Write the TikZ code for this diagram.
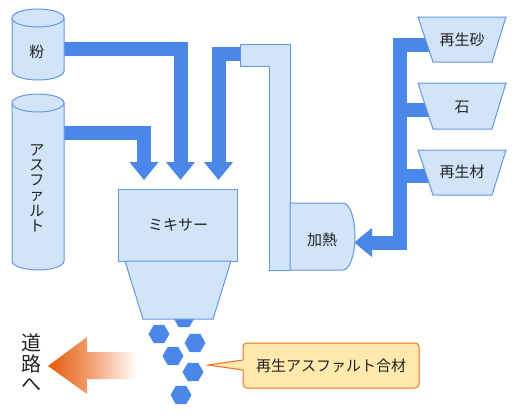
\documentclass[tikz,border=0pt]{standalone}
\usepackage{fontspec}
\setmainfont{Noto Sans CJK JP}
\usetikzlibrary{arrows.meta,shapes.geometric}
\definecolor{flow}{RGB}{75,135,232}
\definecolor{boxfill}{RGB}{210,228,248}
\definecolor{boxline}{RGB}{100,150,230}
\definecolor{calfill}{RGB}{255,233,172}
\definecolor{calline}{RGB}{236,112,32}
\definecolor{deeporange}{RGB}{230,90,10}
\definecolor{txt}{RGB}{34,34,34}
\begin{document}
\begin{tikzpicture}[x=1pt,y=-1pt,
  part/.style={fill=boxfill,draw=boxline,line width=1pt},
  feed/.style={draw=flow,line width=14pt,line join=miter},
  feedtip/.style={feed,-{Triangle[width=28pt,length=18pt]}},
  hex/.style={regular polygon,regular polygon sides=6,fill=flow,minimum size=21pt,inner sep=0pt},
  lbl/.style={text=txt,font=\fontsize{15}{15}\selectfont,inner sep=0pt}]
\useasboundingbox (0,0) rectangle (515,415);
% feed lines
\coordinate (p0) at (64,48.5);   \coordinate (p1) at (180.5,180);
\coordinate (a0) at (64,132.5);  \coordinate (a1) at (144,180);
\coordinate (d0) at (241,54);    \coordinate (d1) at (218.5,180);
\coordinate (s0) at (436,44.5);  \coordinate (sc) at (400,242.5); \coordinate (h1) at (354,242.5);
\coordinate (t0) at (436,110);   \coordinate (t1) at (400,110);
\coordinate (m0) at (436,175.5); \coordinate (m1) at (400,175.5);
\draw[feedtip] (p0) -| (p1);
\draw[feedtip] (a0) -| (a1);
\draw[feedtip] (d0) -| (d1);
\draw[feedtip] (s0) -| (sc) -- (h1);
\draw[feed] (t0) -- (t1);
\draw[feed] (m0) -- (m1);
% cylinders
\path[part] (12,18) -- (12,71) arc[start angle=180,end angle=0,x radius=26,y radius=9] -- (64,18) -- cycle;
\path[part] (38,18) ellipse[x radius=26,y radius=9];
\path[part] (12,103) -- (12,261) arc[start angle=180,end angle=0,x radius=26,y radius=9] -- (64,103) -- cycle;
\path[part] (38,103) ellipse[x radius=26,y radius=9];
\node[lbl] (powder) at (37,52) {粉};
\node[lbl,align=center,font=\fontsize{15}{15.2}\selectfont] (asph) at (37,188) {ア\\ス\\フ\\ァ\\ル\\ト};
% duct and heater
\path[part] (240,44) -- (290,44) -- (290,270) -- (269,270) -- (269,66) -- (240,66) -- cycle;
\path[part] (290,203) -- (343,203) arc[start angle=-90,end angle=90,x radius=12,y radius=33.5] -- (290,270) -- cycle;
\node[lbl] (heat) at (322,240) {加熱};
% hoppers
\path[part] (418,17) -- (506,17) -- (492,62) -- (433,62) -- cycle;
\node[lbl] (sand) at (462,40) {再生砂};
\path[part] (418,83) -- (506,83) -- (492,129) -- (433,129) -- cycle;
\node[lbl] (stone) at (462,107) {石};
\path[part] (418,150) -- (506,150) -- (492,195) -- (433,195) -- cycle;
\node[lbl] (recyc) at (462,172) {再生材};
% mixer
\node[hex] (x0) at (184,318) {};
\path[part] (118,189) rectangle (237,261);
\node[lbl] (mixer) at (178,225) {ミキサー};
\path[part] (125,261) -- (231,261) -- (213,319) -- (143,319) -- cycle;
% granules
\node[hex] (x1) at (159,334) {};
\node[hex] (x2) at (195,343) {};
\node[hex] (x3) at (173,356) {};
\node[hex] (x4) at (193,372) {};
\node[hex] (x5) at (181,395) {};
% orange arrow
\shade[left color=deeporange,right color=white,middle color=deeporange!55!white]
  (48,366) -- (87,337) -- (87,352) -- (137,352) -- (137,379) -- (87,379) -- (87,394) -- cycle;
\node[text=txt,align=center,inner sep=0pt,font=\fontsize{20}{20.5}\selectfont] (road) at (31,363) {道\\路\\へ};
% callout
\draw[fill=calfill,draw=calline,line width=1pt] (243,360) [rounded corners=4pt] -- (243,343) -- (419,343) -- (419,388) -- (243,388) [sharp corners] -- (243,370) -- (208,365) -- cycle;
\node[lbl] (mix) at (331,366) {再生アスファルト合材};
\end{tikzpicture}
\end{document}
